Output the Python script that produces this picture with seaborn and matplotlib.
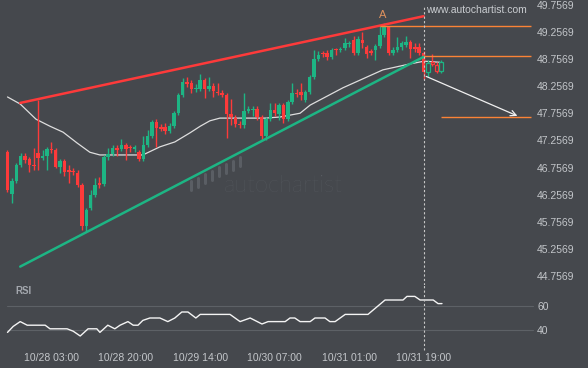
import numpy as np
import matplotlib
matplotlib.use('Agg')
import matplotlib.pyplot as plt
import seaborn as sns
from matplotlib.lines import Line2D

# hourly candles, index 0..99 (index 95 = 10/31 19:00)
opens = [47.04, 46.27, 46.51, 46.80, 46.97, 46.92, 46.80, 47.03, 46.93, 46.97,
         47.10, 47.08, 46.77, 46.88, 46.71, 46.69, 46.66, 46.44, 45.68, 46.01,
         46.25, 46.47, 46.45, 46.95, 47.01, 47.12, 47.10, 47.17, 47.12, 47.10,
         47.04, 46.92, 47.17, 47.34, 47.60, 47.51, 47.51, 47.43, 47.52, 47.76,
         48.10, 48.34, 48.32, 48.21, 48.21, 48.37, 48.21, 48.26, 48.15, 48.13,
         48.10, 47.75, 47.67, 47.56, 47.54, 47.80, 47.82, 47.84, 47.69, 47.34,
         47.65, 47.82, 47.75, 47.91, 47.65, 47.97, 48.13, 48.15, 48.00, 48.15,
         48.43, 48.76, 48.87, 48.87, 48.80, 48.93, 48.93, 48.96, 49.04, 49.11,
         48.87, 49.11, 48.98, 48.91, 48.93, 49.00, 49.20, 49.35, 48.87, 48.93,
         48.98, 49.02, 49.07, 48.98, 48.98, 48.87, 48.52, 48.71, 48.65, 48.54]
closes = [46.34, 46.51, 46.80, 46.97, 46.90, 46.80, 46.79, 46.93, 46.97, 47.10,
          47.08, 46.77, 46.88, 46.68, 46.68, 46.68, 46.44, 45.68, 45.97, 46.25,
          46.44, 46.44, 46.95, 47.01, 47.12, 47.08, 47.17, 47.10, 47.11, 47.14,
          46.92, 47.17, 47.34, 47.60, 47.49, 47.47, 47.43, 47.52, 47.76, 48.10,
          48.34, 48.30, 48.21, 48.22, 48.37, 48.21, 48.26, 48.17, 48.13, 48.10,
          47.75, 47.69, 47.56, 47.54, 47.80, 47.84, 47.84, 47.69, 47.34, 47.65,
          47.82, 47.76, 47.91, 47.65, 47.97, 48.13, 48.12, 48.10, 48.15, 48.43,
          48.76, 48.83, 48.85, 48.80, 48.93, 48.92, 48.94, 49.06, 49.06, 48.87,
          49.13, 49.06, 48.85, 48.87, 49.00, 49.20, 49.35, 48.87, 48.93, 48.98,
          49.06, 49.07, 48.94, 48.94, 48.87, 48.52, 48.69, 48.67, 48.54, 48.71]
highs = [47.08, 46.57, 46.84, 47.03, 47.03, 46.95, 47.12, 48.00, 47.08, 47.14,
         47.23, 47.12, 46.92, 46.92, 46.80, 46.75, 46.71, 46.47, 46.01, 46.34,
         46.57, 46.58, 46.99, 47.12, 47.17, 47.17, 47.29, 47.21, 47.17, 47.17,
         47.08, 47.34, 47.45, 47.64, 47.65, 47.56, 47.58, 47.58, 47.80, 48.13,
         48.41, 48.43, 48.37, 48.30, 48.48, 48.41, 48.43, 48.32, 48.32, 48.19,
         48.13, 48.02, 47.73, 47.62, 48.13, 47.89, 47.89, 47.89, 47.73, 47.69,
         47.95, 47.95, 47.95, 47.95, 48.00, 48.32, 48.21, 48.32, 48.19, 48.47,
         48.93, 48.91, 48.91, 48.93, 48.96, 48.96, 48.98, 49.15, 49.09, 49.19,
         49.19, 49.26, 49.02, 48.94, 49.04, 49.39, 49.42, 49.37, 48.98, 49.17,
         49.09, 49.19, 49.11, 49.06, 49.06, 48.91, 48.74, 48.85, 48.71, 48.74]
lows = [46.31, 46.10, 46.47, 46.77, 46.84, 46.68, 46.71, 46.71, 46.90, 46.71,
        47.03, 46.75, 46.66, 46.60, 46.47, 46.62, 46.40, 45.61, 45.57, 45.97,
        46.21, 46.38, 46.42, 46.90, 46.97, 46.97, 47.06, 46.90, 47.04, 47.04,
        46.88, 46.88, 47.14, 47.30, 47.14, 47.43, 47.38, 47.40, 47.49, 47.73,
        48.06, 48.24, 48.13, 48.15, 48.17, 48.04, 48.17, 48.06, 48.10, 48.06,
        47.30, 47.54, 47.51, 47.49, 47.49, 47.76, 47.71, 47.64, 47.27, 47.27,
        47.62, 47.71, 47.64, 47.58, 47.62, 47.93, 48.06, 48.00, 47.97, 48.12,
        48.39, 48.72, 48.80, 48.74, 48.76, 48.83, 48.89, 48.93, 48.98, 48.83,
        48.83, 48.96, 48.78, 48.83, 48.74, 48.96, 49.17, 48.83, 48.83, 48.89,
        48.93, 48.98, 48.78, 48.89, 48.83, 48.39, 48.43, 48.63, 48.50, 48.50]
first_hollow = 96

# moving average (read at knots)
ma_idx = [0, 2.9, 6.5, 9.7, 12.7, 15.9, 18.8, 21.1, 30.9, 34.8, 38.2, 41.7, 44, 46.2,
          48.5, 58.8, 62.2, 66.8, 69.1, 76.6, 85.7, 91.9, 95.1, 98.7]
ma_val = [48.06, 47.93, 47.65, 47.52, 47.41, 47.21, 47.04, 46.99, 46.99, 47.14, 47.23,
          47.40, 47.52, 47.62, 47.67, 47.67, 47.69, 47.76, 47.91, 48.23, 48.56, 48.67,
          48.72, 48.70]

# rising wedge
res_x = [2.9, 95]
res_y = [47.95, 49.55]
sup_x = [2.9, 95]
sup_y = [44.93, 48.80]

# levels and forecast
level_y = [49.37, 48.81, 47.69]
level_x0 = [85, 95, 99]
level_x1 = 119.5
arrow_from = (95, 48.46)
arrow_to = (117, 47.69)
point_a = (85.7, 49.57)

# RSI
rsi_idx = [0, 1.3, 2.9, 4.5, 8.6, 9.7, 13.6, 15, 16.6, 18.4, 20.4, 21.1, 22.9, 24.5,
           25.7, 27.5, 28.7, 29.8, 30.9, 32.5, 34.8, 36.6, 38.2, 39.8, 41.2, 43, 44,
           50.8, 53.1, 55.4, 58.1, 59.5, 63.4, 64.5, 65.6, 66.8, 69.1, 70.2, 72.5,
           73.6, 74.8, 77.1, 82.3, 86.2, 90.3, 91.2, 93, 94.2, 97.2, 98.3, 99.2]
rsi_val = [38, 43, 47, 44, 44, 41, 41, 39, 35, 41, 41, 38, 44, 41,
           44, 47, 44, 44, 48, 50, 50, 47, 50, 55, 55, 50, 53,
           53, 47, 50, 45, 47, 47, 50, 50, 47, 47, 50, 50,
           47, 47, 53, 53, 65, 65, 68, 68, 65, 65, 62, 62]
rsi_levels = [40, 60]

price_ticks = [44.7569, 45.2569, 45.7569, 46.2569, 46.7569, 47.2569,
               47.7569, 48.2569, 48.7569, 49.2569, 49.7569]
time_pos = [10, 27, 44, 61, 78, 95]
time_labels = ['10/28 03:00', '10/28 20:00', '10/29 14:00',
               '10/30 07:00', '10/31 01:00', '10/31 19:00']

BG = '#45484d'
GREEN = '#1db584'
RED = '#fd3a3a'
ORANGE = '#fb8336'
TXT = '#c3c6ca'
WM = '#5a5e64'

sns.set_theme(style='dark', rc={'axes.facecolor': BG, 'figure.facecolor': BG,
                                'savefig.facecolor': BG})
plt.rcParams['font.family'] = ['Liberation Sans', 'DejaVu Sans']

W, H = 588, 368
fig = plt.figure(figsize=(W / 100, H / 100), dpi=100)
ax = fig.add_axes([0, 1 - 285 / H, 1, 285 / H])
ax2 = fig.add_axes([0, 23 / H, 1, 60 / H], sharex=ax)

xlim = (-7.5 / 4.38, (W - 7.5) / 4.38)

# watermark
ax.text(224 / W, 1 - 185 / 285, 'autochartist', fontsize=17, color=WM,
        va='center', ha='left', family=['Lato', 'DejaVu Sans'], fontweight='light',
        transform=ax.transAxes, zorder=0)
for k in range(8):
    xp = 191 + 7 * k
    yb = 190 - 3.4 * k
    ax.add_line(Line2D([xp / W, xp / W], [1 - yb / 285, 1 - (yb - 9) / 285],
                       color=WM, lw=2.2, transform=ax.transAxes, zorder=0))

# candles
o, c, hi, lo = map(np.array, (opens, closes, highs, lows))
idx = np.arange(len(o))
col = np.where(c >= o, GREEN, RED)
solid = idx < first_hollow
ax.vlines(idx, lo, hi, colors=col, lw=1, zorder=3)
bot = np.minimum(o, c)
hgt = np.maximum(np.abs(c - o), 0.018)
ax.bar(idx[solid], hgt[solid], bottom=bot[solid], width=0.8, color=col[solid],
       linewidth=0, zorder=4)
ax.bar(idx[~solid], hgt[~solid], bottom=bot[~solid], width=0.8, facecolor=BG,
       edgecolor=col[~solid], linewidth=0.9, zorder=4)

sns.lineplot(x=ma_idx, y=ma_val, ax=ax, color='#dedede', lw=0.9, sort=False,
             estimator=None, zorder=2)
sns.lineplot(x=res_x, y=res_y, ax=ax, color=RED, lw=1.8, sort=False, estimator=None, zorder=5)
sns.lineplot(x=sup_x, y=sup_y, ax=ax, color=GREEN, lw=1.8, sort=False, estimator=None, zorder=5)

ax.hlines(level_y, level_x0, level_x1, colors=ORANGE, lw=1, zorder=5)
ax.annotate('', xy=arrow_to, xytext=arrow_from,
            arrowprops=dict(arrowstyle='->', color='#f0f0f0', lw=0.9, mutation_scale=10),
            zorder=6)
ax.text(point_a[0], point_a[1], 'A', color='#e0925e', fontsize=8, ha='center', va='center')

ax.axvline(95, ymin=0, ymax=1 - 5 / 285, color='#c8c8c8', lw=0.8, ls=(0, (2, 2)), zorder=7)

ax.set_xlim(*xlim)
ax.set_ylim(49.849 - 0.01845 * 285, 49.849)
ax.set_yticks(price_ticks)
ax.set_yticklabels([f'{v:.4f}' for v in price_ticks])
ax.yaxis.tick_right()
ax.tick_params(axis='y', length=0, pad=-36.7, labelsize=7.5, labelcolor=TXT)
ax.tick_params(axis='x', length=0, labelbottom=False)
for t in ax.get_yticklabels():
    t.set_horizontalalignment('left')
ax.grid(False)
for s in ax.spines.values():
    s.set_visible(False)
ax.set_xlabel('')
ax.set_ylabel('')

fig.text(426 / W, 1 - 10 / H, 'www.autochartist.com', fontsize=7.5, color='#c9ccd0',
         va='center', ha='left')

# RSI panel
for lv in rsi_levels:
    ax2.axhline(lv, xmin=7 / W, xmax=533 / W, color='#5d6166', lw=0.8, zorder=1)
sns.lineplot(x=rsi_idx, y=rsi_val, ax=ax2, color='#f4f4f4', lw=1, sort=False,
             estimator=None, zorder=3)
ax2.axvline(95, ymin=-5 / 60, ymax=1, color='#c8c8c8', lw=0.8, ls=(0, (2, 2)),
            clip_on=False, zorder=7)
ax2.set_ylim(27.5, 77.5)
ax2.set_yticks(rsi_levels)
ax2.set_yticklabels([str(v) for v in rsi_levels])
ax2.yaxis.tick_right()
ax2.tick_params(axis='y', length=0, pad=-36.7, labelsize=7.5, labelcolor=TXT)
for t in ax2.get_yticklabels():
    t.set_horizontalalignment('left')
ax2.set_xticks(time_pos)
ax2.set_xticklabels(time_labels)
ax2.tick_params(axis='x', length=0, pad=5.5, labelsize=7.5, labelcolor=TXT)
ax2.set_xlim(*xlim)
ax2.grid(False)
for s in ax2.spines.values():
    s.set_visible(False)
ax2.set_xlabel('')
ax2.set_ylabel('')
fig.text(15 / W, 1 - 291 / H, 'RSI', fontsize=7, fontweight='bold', color='#a3a7ad',
         va='center', ha='left')

fig.savefig('out.png', dpi=100, facecolor=BG)
